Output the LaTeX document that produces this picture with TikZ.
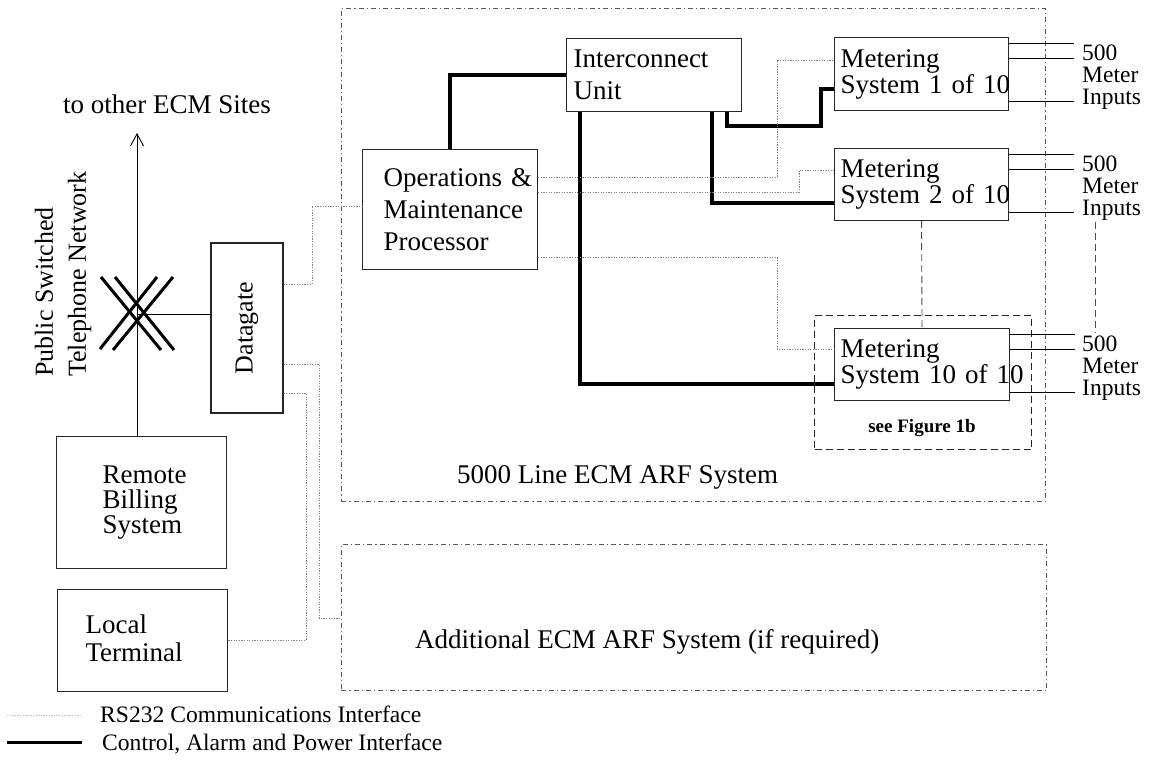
\documentclass[tikz,border=0pt]{standalone}
\usepackage{fontspec}
\setmainfont{Liberation Serif}
\usepackage{graphicx}
\usetikzlibrary{arrows.meta,calc}
\begin{document}
\begin{tikzpicture}[x=1pt,y=-1pt,
  tbox/.style={draw=black!85, line width=1.1pt, anchor=north west, align=left, inner ysep=0pt},
  sys/.style={draw=black!65, line width=0.9pt, dash pattern=on 5pt off 3pt on 1.2pt off 3pt, anchor=north west, inner sep=0pt},
  fdash/.style={draw=black!85, line width=1.3pt, dash pattern=on 7pt off 4pt, anchor=north west, inner sep=0pt},
  mdash/.style={draw=black!70, line width=0.9pt, dash pattern=on 7pt off 4pt},
  rs/.style={draw=black!50, line width=0.9pt, dash pattern=on 1.3pt off 1.3pt},
  ctl/.style={draw=black, line width=3.8pt, line join=miter},
  wire/.style={draw=black, line width=1pt},
  lab/.style={anchor=base west, inner sep=0pt, font=\fontsize{23.5}{20}\selectfont},
  txt/.style={inner sep=0pt, font=\fontsize{27}{32}\selectfont}
]
\useasboundingbox (0,0) rectangle (1165,771);

% system frames
\node[sys, minimum width=704pt, minimum height=493pt] (big) at (341,8) {};
\node[sys, minimum width=705pt, minimum height=146pt] (add) at (341,544) {};
\node[fdash, minimum width=217pt, minimum height=134pt] (fig) at (814,315) {};

% boxes
\node[tbox, font=\fontsize{27}{32}\selectfont, text width=161pt, inner xsep=7pt, minimum height=73pt] (ic) at (566,38) {Interconnect\\Unit};
\node[tbox, font=\fontsize{27}{32}\selectfont, text width=133pt, inner xsep=21pt, minimum height=120pt] (om) at (362,149) {\mbox{Operations \&}\\\mbox{Maintenance}\\\mbox{Processor}};
\node[tbox, font=\fontsize{27}{26}\selectfont, text width=162pt, inner xsep=6pt, minimum height=73pt] (m1) at (834,37) {Metering\\\mbox{System 1 of 10}};
\node[tbox, font=\fontsize{27}{26}\selectfont, text width=162pt, inner xsep=6pt, minimum height=72pt] (m2) at (834,148) {Metering\\\mbox{System 2 of 10}};
\node[tbox, font=\fontsize{27}{26}\selectfont, text width=163pt, inner xsep=6pt, minimum height=72pt] (m10) at (834,328) {Metering\\\mbox{System 10 of 10}};
\node[tbox, font=\fontsize{27}{25}\selectfont, text width=78pt, inner xsep=46pt, minimum height=132pt] (rb) at (56,436) {\mbox{Remote}\\\mbox{Billing}\\\mbox{System}};
\node[tbox, font=\fontsize{27}{28}\selectfont, text width=114pt, inner xsep=28pt, minimum height=102pt] (lt) at (57,589) {\mbox{Local}\\\mbox{Terminal}\vphantom{g}};
\node[tbox, anchor=center, inner sep=0pt, minimum width=72pt, minimum height=170pt, font=\fontsize{26}{30}\selectfont] (dg) at (247,328) {\rotatebox{90}{Datagate}};

% texts
\node[txt, anchor=base] (sites) at (167,113) {to other ECM Sites};
\node[rotate=90, anchor=west, align=left, inner sep=0pt, font=\fontsize{26}{33}\selectfont] (pstnlab) at (63,377) {Public Switched\\Telephone Network};
\node[txt, anchor=base west] (bigl) at (457,483) {5000 Line ECM ARF System};
\node[txt, anchor=base west] (addl) at (415,648) {Additional ECM ARF System (if required)};
\node[anchor=base, inner sep=0pt, font=\bfseries\fontsize{19}{22}\selectfont] (seefig) at (922,432) {see Figure 1b};

% meter input labels
\node[lab] (m1a) at (1082,60) {500};
\node[lab] (m1b) at (1082,82) {Meter};
\node[lab] (m1c) at (1082,104) {Inputs};
\node[lab] (m2a) at (1082,171) {500};
\node[lab] (m2b) at (1082,193) {Meter};
\node[lab] (m2c) at (1082,215) {Inputs};
\node[lab] (m10a) at (1082,351) {500};
\node[lab] (m10b) at (1082,373) {Meter};
\node[lab] (m10c) at (1082,395) {Inputs};

% meter input wires
\foreach \m in {m1,m2,m10}{
  \draw[wire] ($(\m.north east)+(0,6.5)$) -- ++(65,0);
  \draw[wire] ($(\m.north east)+(0,21.5)$) -- ++(65,0);
  \draw[wire] ($(\m.north east)+(0,64.5)$) -- ++(65,0);
}

% PSTN cross
\coordinate (pstn) at (137,314);
\coordinate (tip) at (137,133);
\draw[line width=0.9pt, -{Straight Barb[length=12pt,width=13pt,line width=0.9pt]}] (rb.north -| pstn) -- (tip);
\draw[line width=3pt] ($(pstn)+(-36,-37)$) -- ($(pstn)+(24,36)$);
\draw[line width=3pt] ($(pstn)+(-22,-37)$) -- ($(pstn)+(37,36)$);
\draw[line width=3pt] ($(pstn)+(20,-37)$) -- ($(pstn)+(-37,35)$);
\draw[line width=3pt] ($(pstn)+(36,-37)$) -- ($(pstn)+(-24,36)$);
\draw[line width=0.9pt] (pstn) -- (pstn -| dg.west);

% control, alarm and power lines
\draw[ctl] (om.north) |- (ic.west |- 0,75);
\draw[ctl] (ic.south -| 727,0) -- (727,126) -| (821,89) -- (m1.west |- 0,89);
\draw[ctl] (ic.south -| 712,0) |- (m2.west |- 0,203);
\draw[ctl] (ic.south -| 580,0) |- (m10.west |- 0,384);

% RS232 lines
\draw[rs] (dg.east |- 0,284) -| (312,206) -- (om.west |- 0,206);
\draw[rs] (dg.east |- 0,364) -| (319,618) -- (add.west |- 0,618);
\draw[rs] (dg.east |- 0,393) -| (306,640) -- (lt.east |- 0,640);
\draw[rs] (om.east |- 0,177) -| (777,60) -- (m1.west |- 0,60);
\draw[rs] (om.east |- 0,192) -| (799,170) -- (m2.west |- 0,170);
\draw[rs] (om.east |- 0,257) -| (777,349) -- (m10.west |- 0,349);

% dashed continuation lines
\draw[mdash] (m2.south) -- (m10.north);
\coordinate (dv1) at (1095,222);
\coordinate (dv2) at (1095,333);
\draw[mdash] (dv1) -- (dv2);

% legend
\coordinate (lga) at (7,715);
\coordinate (lgb) at (82,715);
\coordinate (lgc) at (7,742);
\coordinate (lgd) at (82,742);
\draw[rs, draw=black!25] (lga) -- (lgb);
\draw[line width=3pt] (lgc) -- (lgd);
\node[anchor=base west, inner sep=0pt, font=\fontsize{23.6}{28}\selectfont] (lg1) at (100,722) {RS232 Communications Interface};
\node[anchor=base west, inner sep=0pt, font=\fontsize{23.6}{28}\selectfont] (lg2) at (102,750) {Control, Alarm and Power Interface};
\end{tikzpicture}
\end{document}
